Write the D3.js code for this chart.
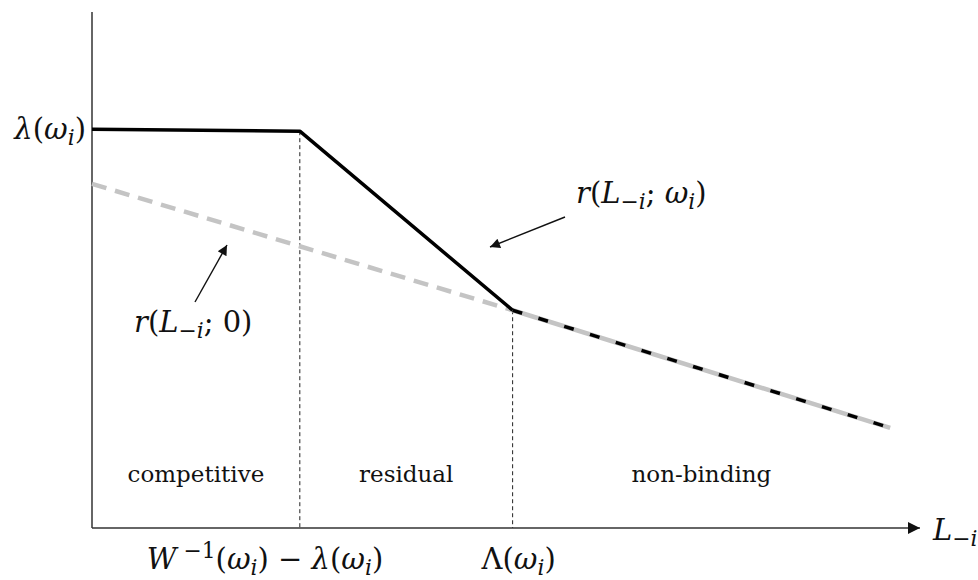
<!DOCTYPE html>
<html>
<head>
<meta charset="utf-8">
<script src="https://cdn.jsdelivr.net/npm/d3@7"></script>
<style>
  body { margin: 0; background: #fff; }
  svg { display: block; }
</style>
</head>
<body>
<svg id="chart" width="978" height="580"></svg>
<script>
// curve with market power: flat, steep, then common tail
var rPoints = [[0, 77.3], [25.1, 76.9], [50.8, 42.2], [96.4, 19.4]];
// curve without market power
var r0Points = [[0, 66.7], [50.8, 42.2], [96.4, 19.4]];
var thresholds = [25.1, 50.8];
var regimes = ["competitive", "residual", "non-binding"];
var regimeBounds = [0, 25.1, 50.8, 96.4];

var serif = "'DejaVu Serif', 'Liberation Serif', serif";

var svg = d3.select("#chart");
var x = d3.scaleLinear().domain([0, 100]).range([92, 920]);
var y = d3.scaleLinear().domain([0, 100]).range([528, 12]);

var line = d3.line()
    .x(function(d) { return x(d[0]); })
    .y(function(d) { return y(d[1]); });

// arrow markers
var defs = svg.append("defs");
defs.append("marker")
    .attr("id", "axisHead")
    .attr("viewBox", "0 0 10 10")
    .attr("refX", 10).attr("refY", 5)
    .attr("markerWidth", 14).attr("markerHeight", 12)
    .attr("markerUnits", "userSpaceOnUse")
    .attr("orient", "auto")
    .append("path").attr("d", "M0,0L10,5L0,10Z").attr("fill", "#111");
defs.append("marker")
    .attr("id", "noteHead")
    .attr("viewBox", "0 0 10 10")
    .attr("refX", 10).attr("refY", 5)
    .attr("markerWidth", 14).attr("markerHeight", 10)
    .attr("markerUnits", "userSpaceOnUse")
    .attr("orient", "auto")
    .append("path").attr("d", "M0,0L10,5L0,10Z").attr("fill", "#111");

// axes
svg.append("line")
    .attr("x1", x(0)).attr("x2", x(0))
    .attr("y1", y(0)).attr("y2", y(100))
    .attr("stroke", "#333").attr("stroke-width", 1.5);
svg.append("line")
    .attr("x1", x(0)).attr("x2", x(100))
    .attr("y1", y(0)).attr("y2", y(0))
    .attr("stroke", "#333").attr("stroke-width", 1.5)
    .attr("marker-end", "url(#axisHead)");

// regime boundaries
var kinkY = [rPoints[1][1], rPoints[2][1]];
svg.selectAll(".bound")
    .data(thresholds)
    .enter().append("line")
    .attr("class", "bound")
    .attr("x1", function(d) { return x(d); })
    .attr("x2", function(d) { return x(d); })
    .attr("y1", function(d, i) { return y(kinkY[i]); })
    .attr("y2", y(0))
    .attr("stroke", "#222").attr("stroke-width", 1)
    .attr("stroke-dasharray", "4,3");

// gray curve: dashed part then solid under the black dashes
svg.append("path")
    .attr("d", line(r0Points.slice(0, 2)))
    .attr("fill", "none")
    .attr("stroke", "#c4c4c4").attr("stroke-width", 4.5)
    .attr("stroke-dasharray", "15,9");
svg.append("path")
    .attr("d", line(r0Points.slice(1)))
    .attr("fill", "none")
    .attr("stroke", "#c4c4c4").attr("stroke-width", 4.5);

// black curve
svg.append("path")
    .attr("d", line(rPoints.slice(0, 3)))
    .attr("fill", "none")
    .attr("stroke", "#000").attr("stroke-width", 3.5)
    .attr("stroke-linejoin", "round");
svg.append("path")
    .attr("d", line(rPoints.slice(2)))
    .attr("fill", "none")
    .attr("stroke", "#000").attr("stroke-width", 3.5)
    .attr("stroke-dasharray", "10,17");

// regime names
svg.selectAll(".regime")
    .data(regimes)
    .enter().append("text")
    .attr("class", "regime")
    .attr("x", function(d, i) { return x((regimeBounds[i] + regimeBounds[i + 1]) / 2); })
    .attr("y", 482)
    .attr("text-anchor", "middle")
    .attr("font-family", serif)
    .attr("font-size", 23)
    .attr("fill", "#111")
    .text(function(d) { return d; });

// math labels built from pieces: [text, italic, sub/sup]
function mathText(px, py, parts, anchor, size) {
    var t = svg.append("text")
        .attr("x", px).attr("y", py)
        .attr("font-family", serif)
        .attr("font-size", size)
        .attr("fill", "#111")
        .attr("text-anchor", anchor);
    var shift = 0;
    parts.forEach(function(p) {
        var target = p[2] === "sub" ? size * 0.22 : p[2] === "sup" ? -size * 0.38 : 0;
        t.append("tspan")
            .attr("dy", target - shift)
            .attr("font-style", p[1] ? "italic" : "normal")
            .attr("font-size", p[2] ? size * 0.75 : size)
            .text(p[0]);
        shift = target;
    });
    return t;
}

mathText(86, 139, [["λ", 1], ["(", 0], ["ω", 1], ["i", 1, "sub"], [")", 0]], "end", 29);
mathText(576, 203, [["r", 1], ["(", 0], ["L", 1], ["−", 0, "sub"], ["i", 1, "sub"], ["; ", 0], ["ω", 1], ["i", 1, "sub"], [")", 0]], "start", 29);
mathText(134, 332, [["r", 1], ["(", 0], ["L", 1], ["−", 0, "sub"], ["i", 1, "sub"], ["; 0)", 0]], "start", 29);
mathText(265, 569, [["W", 1], [" −1", 0, "sup"], ["(", 0], ["ω", 1], ["i", 1, "sub"], [") − ", 0], ["λ", 1], ["(", 0], ["ω", 1], ["i", 1, "sub"], [")", 0]], "middle", 29);
mathText(x(thresholds[1]) + 6, 569, [["Λ", 0], ["(", 0], ["ω", 1], ["i", 1, "sub"], [")", 0]], "middle", 29);
mathText(933, 540, [["L", 1], ["−", 0, "sub"], ["i", 1, "sub"]], "start", 29);

// annotation arrows
svg.append("line")
    .attr("x1", 565).attr("y1", 217).attr("x2", 490).attr("y2", 247)
    .attr("stroke", "#111").attr("stroke-width", 1.4)
    .attr("marker-end", "url(#noteHead)");
svg.append("line")
    .attr("x1", 195).attr("y1", 302).attr("x2", 227).attr("y2", 245)
    .attr("stroke", "#111").attr("stroke-width", 1.4)
    .attr("marker-end", "url(#noteHead)");
</script>
</body>
</html>
